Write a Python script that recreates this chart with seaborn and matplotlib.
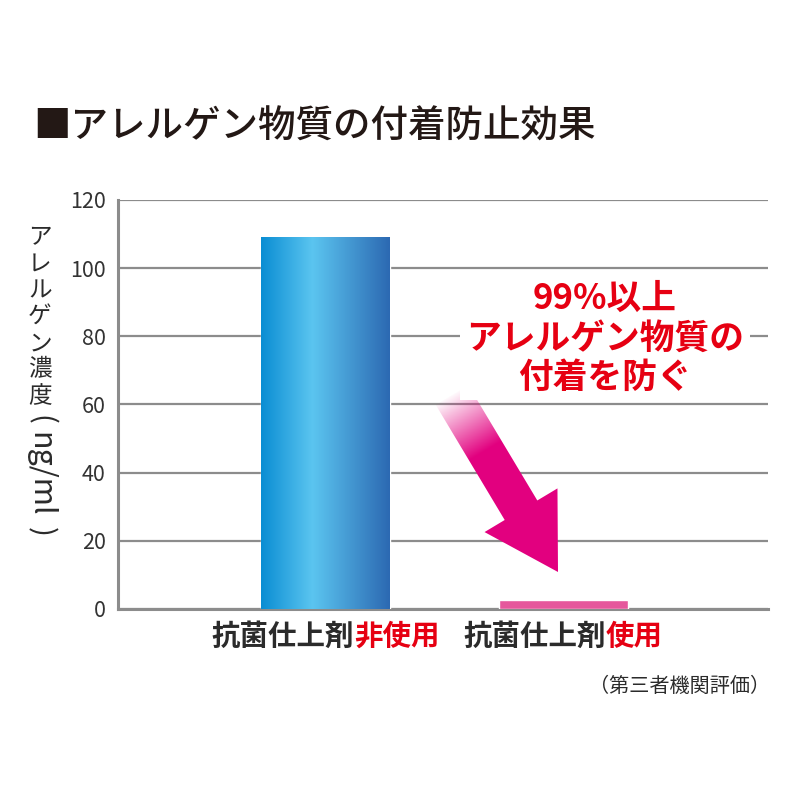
import numpy as np
import pandas as pd
import matplotlib
matplotlib.use('Agg')
import matplotlib.pyplot as plt
from matplotlib.colors import LinearSegmentedColormap, to_rgb
from matplotlib.patches import FancyArrow
import seaborn as sns

# data
label_black = ['抗菌仕上剤', '抗菌仕上剤']
label_red   = ['非使用', '使用']
values      = [109, 2.5]
yticks      = [0, 20, 40, 60, 80, 100, 120]

title    = '■アレルゲン物質の付着防止効果'
ylab_jp  = 'アレルゲン濃度'
ylab_en  = ['(', 'ng/ml', ')']
callout  = '99%以上\nアレルゲン物質の\n付着を防ぐ'
footnote = '（第三者機関評価）'

sns.set_theme(style='white')
plt.rcParams['font.family'] = ['Noto Sans CJK JP', 'DejaVu Sans']

_red  = '#e60012'
_grid = '#8c8c8c'
_txt  = '#2b2b2b'

fig = plt.figure(figsize=(8, 8), dpi=100)
ax = fig.add_axes([0.1475, 0.239, 0.8125, 0.511])

df = pd.DataFrame({'cat': [b + r for b, r in zip(label_black, label_red)], 'val': values})
sns.barplot(data=df, x='cat', y='val', hue='cat', palette=['#3fa9e2', '#e5589c'],
            width=0.543, saturation=1, legend=False, ax=ax, zorder=3)

# horizontal gradient on the first bar
cmap = LinearSegmentedColormap.from_list('blu', [(0, '#0a8dd3'), (0.4, '#5bc5f0'), (1, '#2c69b2')])
p = ax.patches[0]
x0, w, h = p.get_x(), p.get_width(), p.get_height()
grad = np.linspace(0, 1, 256).reshape(1, -1)
im = ax.imshow(grad, cmap=cmap, extent=(x0, x0 + w, 0, h), aspect='auto', zorder=3.5)
im.set_clip_path(p)

ax.set_xlim(-0.874, 1.863)
ax.set_ylim(0, 120)
ax.set_yticks(yticks)
ax.set_xticks([0, 1], ['', ''])
ax.set_xlabel('')
ax.set_ylabel('')
ax.grid(axis='y', color=_grid, lw=1.6)
ax.set_axisbelow(True)
for s in ['top', 'right']:
	ax.spines[s].set_visible(False)
for s in ['left', 'bottom']:
	ax.spines[s].set_color(_grid)
	ax.spines[s].set_linewidth(2.2)
ax.tick_params(axis='y', length=0, pad=9, labelsize=15.5, labelcolor='#333333')
ax.tick_params(axis='x', length=0)

# two-colour category labels
_xfs = 20.5
for i, (b, r) in enumerate(zip(label_black, label_red)):
	n_tot = len(b) + len(r)
	off = (len(b) - n_tot / 2.) * _xfs
	ax.annotate(b, xy=(i, 0), xycoords=('data', 'axes fraction'), xytext=(off, -20),
	            textcoords='offset points', ha='right', va='center', fontsize=_xfs,
	            color=_txt, fontweight='bold')
	ax.annotate(r, xy=(i, 0), xycoords=('data', 'axes fraction'), xytext=(off, -20),
	            textcoords='offset points', ha='left', va='center', fontsize=_xfs,
	            color=_red, fontweight='bold')

# title
fig.text(33 / 800, 1 - 127 / 800, title, ha='left', va='center', fontsize=27,
         fontweight='medium', color='#231815')

# vertical y label
for k, ch in enumerate(ylab_jp):
	fig.text(40 / 800, 1 - (238 + k * 26.4) / 800, ch, ha='center', va='center',
	         fontsize=17, color=_txt)
for ypx, part, fs in zip([420, 474, 532], ylab_en, [21, 22, 21]):
	fig.text(40 / 800, 1 - ypx / 800, part, ha='center', va='center', rotation=-90,
	         fontsize=fs, color=_txt)

# red callout
fig.text(605 / 800, 1 - 338 / 800, callout, ha='center', va='center', fontsize=25,
         fontweight='bold', color=_red, linespacing=1.15,
         bbox=dict(fc='white', ec='none', pad=4))

# footnote
fig.text(770 / 800, 1 - 686 / 800, footnote, ha='right', va='center', fontsize=14.5,
         color=_txt)

# magenta arrow with fading tail (pixel coords in a helper axes)
aax = fig.add_axes([420 / 800, 1 - 590 / 800, 180 / 800, 220 / 800])
aax.set_xlim(420, 600)
aax.set_ylim(590, 370)
aax.axis('off')
aax.patch.set_alpha(0)
tx, ty, dx, dy = 452, 395, 106, 177
arrow = FancyArrow(tx, ty, dx, dy, width=38, head_width=85, head_length=72,
                   length_includes_head=True, fc='none', ec='none')
aax.add_patch(arrow)
L = np.hypot(dx, dy)
ux, uy = dx / L, dy / L
xs, ys = np.meshgrid(np.arange(420, 600) + 0.5, np.arange(370, 590) + 0.5)
proj = ((xs - tx) * ux + (ys - ty) * uy) / L
img = np.zeros(xs.shape + (4,))
img[..., :3] = to_rgb('#e2007f')
img[..., 3] = np.clip(0.02 + proj / 0.32, 0, 1)
aim = aax.imshow(img, extent=(420, 600, 590, 370), origin='upper', aspect='auto',
                 interpolation='bilinear')
aim.set_clip_path(arrow)
aax.set_xlim(420, 600)
aax.set_ylim(590, 370)

fig.savefig('out.png', dpi=100)
